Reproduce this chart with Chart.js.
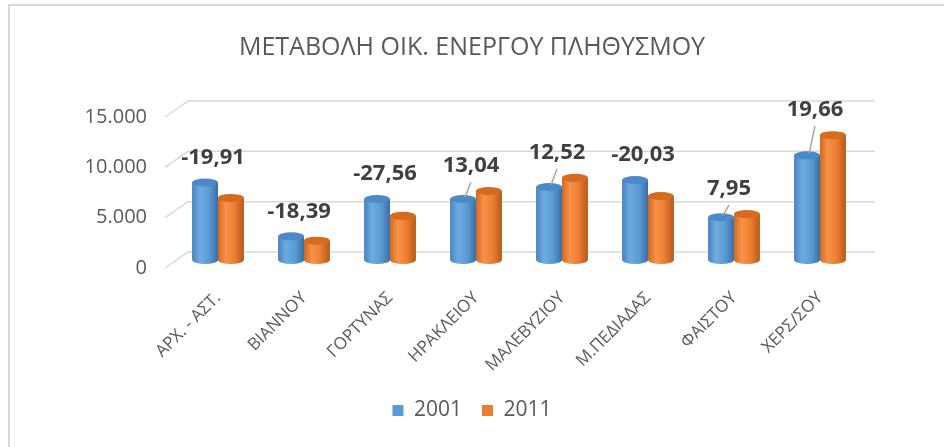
<!DOCTYPE html>
<html>
<head>
<meta charset="utf-8">
<script src="https://cdn.jsdelivr.net/npm/chart.js@4.4.1/dist/chart.umd.min.js"></script>
<style>
  html, body { margin: 0; padding: 0; background: #fff; }
  #wrap { position: relative; width: 944px; height: 447px; overflow: hidden; }
  #frame { position: absolute; left: 8px; top: 4px; width: 1000px; height: 1000px; border: 2px solid #d9d9d9; }
  #chart { position: absolute; left: 0; top: 0; }
</style>
</head>
<body>
<div id="wrap">
  <div id="frame"></div>
  <canvas id="chart" width="944" height="447"></canvas>
</div>
<script>
const categories = ['ΑΡΧ. - ΑΣΤ.', 'ΒΙΑΝΝΟΥ', 'ΓΟΡΤΥΝΑΣ', 'ΗΡΑΚΛΕΙΟΥ', 'ΜΑΛΕΒΥΖΙΟΥ', 'Μ.ΠΕΔΙΑΔΑΣ', 'ΦΑΙΣΤΟΥ', 'ΧΕΡΣ/ΣΟΥ'];
const values2001 = [7700, 2350, 6060, 6060, 7250, 7950, 4250, 10400];
const values2011 = [6170, 1920, 4390, 6850, 8160, 6360, 4560, 12400];
const changes = [-19.91, -18.39, -27.56, 13.04, 12.52, -20.03, 7.95, 19.66];
const yTicks = [0, 5000, 10000, 15000];

const textColor = '#595959';
const fontFamily = "'Open Sans', 'Noto Sans', sans-serif";
const depth = 8;

function fmtThousands(v) {
  return String(v).replace(/\B(?=(\d{3})+(?!\d))/g, '.');
}

// back wall grid lines drawn from the y scale ticks, shifted for the 3D look
const wallGrid = {
  id: 'wallGrid',
  beforeDatasetsDraw(chart) {
    const { ctx, chartArea, scales } = chart;
    ctx.save();
    ctx.strokeStyle = '#d9d9d9';
    ctx.lineWidth = 1.5;
    yTicks.forEach((v) => {
      const y = scales.y.getPixelForValue(v);
      ctx.beginPath();
      ctx.moveTo(chartArea.left - 10, y + depth);
      ctx.lineTo(chartArea.left + 13, y - depth);
      ctx.lineTo(chartArea.right + 12, y - depth);
      ctx.stroke();
    });
    ctx.restore();
  }
};

const palettes = [
  { stops: ['#4a83bd', '#6eabe3', '#5b9bd5', '#3a6ea3'], cap: '#4d89c6' },
  { stops: ['#d2681f', '#f89249', '#ed7d31', '#b35a1b'], cap: '#d66a1f' }
];

function drawCylinder(ctx, el, pal) {
  const { x, y, base, width } = el.getProps(['x', 'y', 'base', 'width'], true);
  const rx = width / 2;
  const ry = 4;
  const g = ctx.createLinearGradient(x - rx, 0, x + rx, 0);
  g.addColorStop(0, pal.stops[0]);
  g.addColorStop(0.3, pal.stops[1]);
  g.addColorStop(0.65, pal.stops[2]);
  g.addColorStop(1, pal.stops[3]);
  ctx.beginPath();
  ctx.moveTo(x - rx, y);
  ctx.lineTo(x - rx, base);
  ctx.ellipse(x, base, rx, ry, 0, Math.PI, 0, true);
  ctx.lineTo(x + rx, y);
  ctx.closePath();
  ctx.fillStyle = g;
  ctx.fill();
  ctx.beginPath();
  ctx.ellipse(x, y, rx, ry, 0, 0, Math.PI * 2);
  ctx.fillStyle = pal.cap;
  ctx.fill();
}

const cylinders = {
  id: 'cylinders',
  afterDatasetsDraw(chart) {
    const { ctx } = chart;
    const m0 = chart.getDatasetMeta(0);
    const m1 = chart.getDatasetMeta(1);
    ctx.save();
    categories.forEach((c, i) => {
      drawCylinder(ctx, m0.data[i], palettes[0]);
      drawCylinder(ctx, m1.data[i], palettes[1]);
    });
    // percentage labels with leader lines to the 2001 bar
    ctx.font = "bold 22px " + fontFamily;
    ctx.fillStyle = '#404040';
    ctx.textAlign = 'center';
    ctx.textBaseline = 'middle';
    categories.forEach((c, i) => {
      const b = m0.data[i];
      const o = m1.data[i];
      const lx = (b.x + o.x) / 2 - 5;
      const ly = Math.min(b.y, o.y) - 25;
      ctx.fillText(changes[i].toFixed(2).replace('.', ','), lx, ly);
      if (values2011[i] > values2001[i]) {
        ctx.beginPath();
        ctx.strokeStyle = '#a6a6a6';
        ctx.lineWidth = 1.5;
        ctx.moveTo(lx, ly + 16);
        ctx.lineTo(b.x + 2, b.y - 2);
        ctx.stroke();
      }
    });
    ctx.restore();
  }
};

new Chart(document.getElementById('chart'), {
  type: 'bar',
  data: {
    labels: categories,
    datasets: [
      { label: '2001', data: values2001, backgroundColor: '#5b9bd5' },
      { label: '2011', data: values2011, backgroundColor: '#ed7d31' }
    ]
  },
  options: {
    responsive: false,
    animation: false,
    layout: { padding: { left: 0, right: 0, top: 0, bottom: 16 } },
    datasets: { bar: { barPercentage: 1, categoryPercentage: 0.6 } },
    scales: {
      x: {
        grid: { display: false },
        border: { display: false },
        ticks: {
          color: textColor,
          font: { family: fontFamily, size: 17 },
          minRotation: 45,
          maxRotation: 45,
          autoSkip: false,
          padding: 20
        },
        afterFit(s) { s.height = 120; }
      },
      y: {
        min: 0,
        max: 15000,
        grid: { display: false },
        border: { display: false },
        ticks: {
          stepSize: 5000,
          color: textColor,
          font: { family: fontFamily, size: 20 },
          padding: 20,
          labelOffset: depth,
          callback: (v) => fmtThousands(v)
        },
        afterFit(s) { s.width = 175; }
      },
      // empty right margin so the title and legend centre on the whole canvas
      yr: {
        position: 'right',
        grid: { display: false },
        border: { display: false },
        ticks: { display: false },
        afterFit(s) { s.width = 81; }
      }
    },
    plugins: {
      title: {
        display: true,
        text: 'ΜΕΤΑΒΟΛΗ ΟΙΚ. ΕΝΕΡΓΟΥ ΠΛΗΘΥΣΜΟΥ',
        color: textColor,
        font: { family: fontFamily, size: 25, weight: 'normal' },
        padding: { top: 33, bottom: 46 }
      },
      legend: {
        position: 'bottom',
        labels: {
          color: textColor,
          font: { family: fontFamily, size: 21 },
          boxWidth: 11,
          boxHeight: 11,
          padding: 20
        }
      },
      tooltip: { enabled: false }
    }
  },
  plugins: [wallGrid, cylinders]
});
</script>
</body>
</html>
